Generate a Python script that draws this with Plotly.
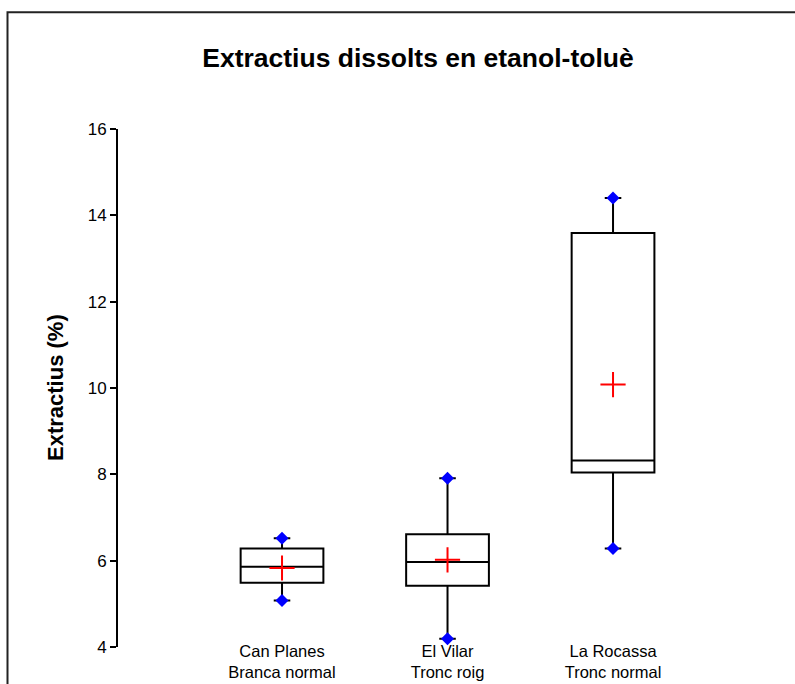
import plotly.graph_objects as go

categories = ["Can Planes<br>Branca normal", "El Vilar<br>Tronc roig", "La Rocassa<br>Tronc normal"]
lower = [5.08, 4.19, 6.28]
q1 = [5.49, 5.42, 8.04]
median = [5.86, 5.97, 8.32]
q3 = [6.28, 6.61, 13.59]
upper = [6.52, 7.91, 14.40]
mean = [5.83, 6.02, 10.08]
y_ticks = [4, 6, 8, 10, 12, 14, 16]

FONT = "Liberation Sans, Arial, sans-serif"
W, H = 795, 684
L, R, T, B = 118, 35, 129, 37
pw = W - L - R
ph = H - T - B

fig = go.Figure()
fig.add_trace(go.Box(
    x=categories, q1=q1, median=median, q3=q3,
    lowerfence=lower, upperfence=upper,
    width=0.5, whiskerwidth=0.2,
    line=dict(color="black", width=2), fillcolor="white",
    boxpoints=False, showlegend=False, hoverinfo="skip",
))
fig.add_trace(go.Scatter(
    x=categories + categories, y=lower + upper, mode="markers",
    marker=dict(symbol="diamond", size=10, color="#0000FF"),
    showlegend=False, hoverinfo="skip",
))
fig.add_trace(go.Scatter(
    x=categories, y=mean, mode="markers",
    marker=dict(symbol="cross-thin", size=18, line=dict(color="#FF0000", width=2)),
    showlegend=False, hoverinfo="skip",
))

# outer frame
fig.add_shape(type="rect", xref="paper", yref="paper",
              x0=(7.5 - L) / pw, x1=(805 - L) / pw,
              y0=-(700 - (H - B)) / ph, y1=((H - B) - 12.3) / ph,
              line=dict(color="#222", width=2), fillcolor="rgba(0,0,0,0)")

fig.add_annotation(text="<b>Extractius (%)</b>", xref="paper", yref="paper",
                   x=(55 - L) / pw, y=0.5, textangle=-90, showarrow=False,
                   xanchor="center", yanchor="middle",
                   font=dict(family=FONT, size=22, color="black"))

fig.update_layout(
    width=W, height=H,
    margin=dict(l=L, r=R, t=T, b=B, pad=0, autoexpand=False),
    paper_bgcolor="white", plot_bgcolor="white",
    title=dict(text="<b>Extractius dissolts en etanol-toluè</b>",
               x=418 / W, xanchor="center", y=1 - 58 / H, yanchor="middle",
               font=dict(family=FONT, size=26.5, color="black")),
    font=dict(family=FONT, color="black"),
    xaxis=dict(type="category", range=[-0.991, 2.888], showline=False, ticks="",
               automargin=False, ticklabelstandoff=-8,
               showgrid=False, zeroline=False, tickfont=dict(size=16.5, color="black")),
    yaxis=dict(range=[4, 16], tickvals=y_ticks, showline=True, linecolor="black", linewidth=2,
               ticks="outside", ticklen=6, tickwidth=2, tickcolor="black", automargin=False,
               showgrid=False, zeroline=False, tickfont=dict(size=17, color="black")),
)

fig.write_html("out.html", config={"displayModeBar": False},
               post_script="document.body.style.margin='0';document.body.style.padding='0';")
